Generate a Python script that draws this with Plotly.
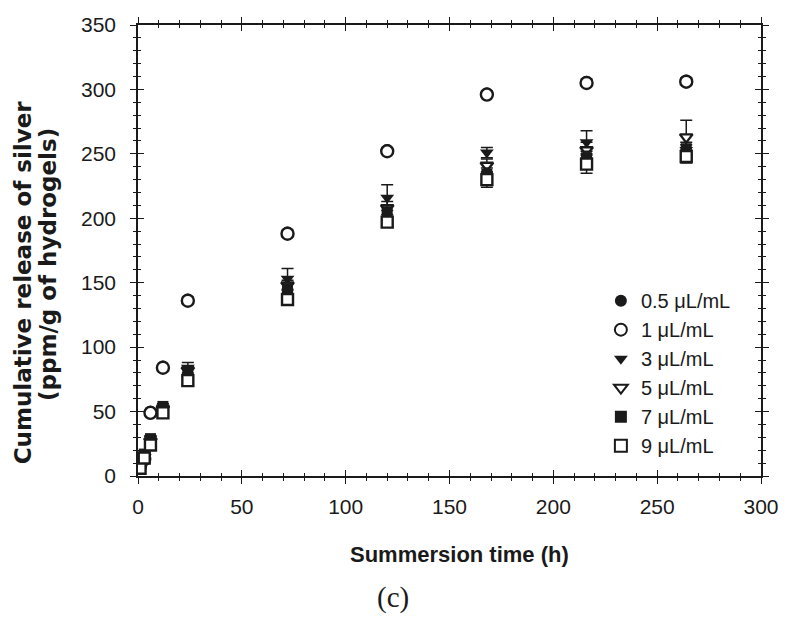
import plotly.graph_objects as go

# Sampling times (h)
time_h = [1, 3, 6, 12, 24, 72, 120, 168, 216, 264]

# Cumulative silver release (ppm/g of hydrogels) per AgNO3 concentration
rel_05 = [9, 14, 50, 85, 137, 189, 253, 297, 306, 307]
rel_1 = [8, 13, 49, 84, 136, 188, 252, 296, 305, 306]
rel_3 = [11, 16, 29, 53, 84, 153, 216, 251, 259, 253]
rel_5 = [10, 15, 27, 52, 82, 148, 208, 241, 253, 263]
rel_7 = [12, 17, 29, 54, 80, 145, 205, 234, 247, 254]
rel_9 = [6, 14, 24, 49, 74, 137, 197, 230, 242, 248]

# Standard deviations
sd_05 = [1, 1, 1, 1, 2, 2, 2, 2, 2, 2]
sd_1 = [1, 1, 1, 1, 2, 2, 2, 2, 2, 2]
sd_3 = [1, 1, 2, 2, 4, 8, 10, 4, 9, 4]
sd_5 = [1, 1, 2, 2, 3, 4, 5, 5, 6, 13]
sd_7 = [1, 1, 2, 2, 3, 4, 5, 5, 5, 5]
sd_9 = [1, 1, 2, 2, 3, 3, 4, 6, 7, 5]

labels = ["0.5 μL/mL", "1 μL/mL", "3 μL/mL", "5 μL/mL", "7 μL/mL", "9 μL/mL"]
values = [rel_05, rel_1, rel_3, rel_5, rel_7, rel_9]
errors = [sd_05, sd_1, sd_3, sd_5, sd_7, sd_9]
symbols = ["circle", "circle-open", "triangle-down", "triangle-down-open", "square", "square-open"]
sizes = [12, 12, 12, 11, 11, 11]

INK = "#1a1a1a"
FONT = "Liberation Sans, Arial, sans-serif"

fig = go.Figure()

for i, (name, y, e, sym, sz) in enumerate(zip(labels, values, errors, symbols, sizes)):
    is_open = sym.endswith("open")
    base = sym.replace("-open", "")
    fig.add_trace(go.Scatter(
        x=time_h, y=y, name=name, mode="markers",
        legendgroup=f"g{i}",
        error_y=dict(type="data", array=e, visible=True, color=INK,
                     thickness=1.5, width=6),
        marker=dict(
            symbol=base,
            size=sz,
            color="white" if is_open else INK,
            line=dict(color=INK, width=2.4 if is_open else 0),
        ),
    ))

# Invisible trace anchoring the overlay axes used for inward ticks
fig.add_trace(go.Scatter(x=[0], y=[0], xaxis="x2", yaxis="y2", mode="markers",
                         marker=dict(opacity=0), showlegend=False, hoverinfo="skip"))

axis_common = dict(
    showgrid=False, zeroline=False, showline=True, linecolor=INK, linewidth=1.6,
    tickcolor=INK, tickwidth=1.2, mirror="ticks",
    tickfont=dict(family=FONT, size=21, color=INK),
)

fig.update_layout(
    width=791, height=628,
    margin=dict(l=138, r=23, t=25, b=152),
    plot_bgcolor="white", paper_bgcolor="white",
    showlegend=True,
    xaxis=dict(range=[0, 300], dtick=50, ticks="outside", ticklen=6,
               ticklabelstandoff=5,
               minor=dict(dtick=10, ticks="outside", ticklen=3, tickcolor=INK),
               **axis_common),
    yaxis=dict(range=[0, 350], dtick=50, ticks="outside", ticklen=6,
               ticklabelstandoff=10,
               minor=dict(dtick=10, ticks="outside", ticklen=3, tickcolor=INK),
               **axis_common),
    xaxis2=dict(overlaying="x", range=[0, 300], dtick=50, ticks="inside", ticklen=6,
                minor=dict(dtick=10, ticks="inside", ticklen=3, tickcolor=INK),
                showticklabels=False, showgrid=False, zeroline=False,
                showline=False, tickcolor=INK, tickwidth=1.2, mirror="ticks"),
    yaxis2=dict(overlaying="y", range=[0, 350], dtick=50, ticks="inside", ticklen=6,
                minor=dict(dtick=10, ticks="inside", ticklen=3, tickcolor=INK),
                showticklabels=False, showgrid=False, zeroline=False,
                showline=False, tickcolor=INK, tickwidth=1.2, mirror="ticks"),
    legend=dict(
        x=0.743, y=0.432, xanchor="left", yanchor="top",
        bgcolor="rgba(0,0,0,0)", borderwidth=0,
        font=dict(family=FONT, size=20, color=INK),
        tracegroupgap=0, itemsizing="constant",
    ),
)

# Axis titles and panel caption
fig.add_annotation(text="<b>Summersion time (h)</b>", xref="paper", yref="paper",
                   x=0.516, y=-0.175, xanchor="center", yanchor="middle", showarrow=False,
                   font=dict(family=FONT, size=22, color=INK))
ytitle_font = dict(family="DejaVu Sans, sans-serif", size=23, color=INK)
fig.add_annotation(text="<b>Cumulative release of silver</b>",
                   xref="paper", yref="paper", x=(22 - 138) / 630, y=(476 - 282) / 451,
                   textangle=-90, xanchor="center", yanchor="middle", showarrow=False,
                   font=ytitle_font)
fig.add_annotation(text="<b>(ppm/g of hydrogels)</b>",
                   xref="paper", yref="paper", x=(47 - 138) / 630, y=(476 - 265) / 451,
                   textangle=-90, xanchor="center", yanchor="middle", showarrow=False,
                   font=ytitle_font)
fig.add_annotation(text="(c)", xref="paper", yref="paper",
                   x=0.41, y=-0.27, xanchor="center", yanchor="middle", showarrow=False,
                   font=dict(family="Liberation Serif, Times New Roman, serif", size=29, color=INK))

fig.write_html("out.html")
